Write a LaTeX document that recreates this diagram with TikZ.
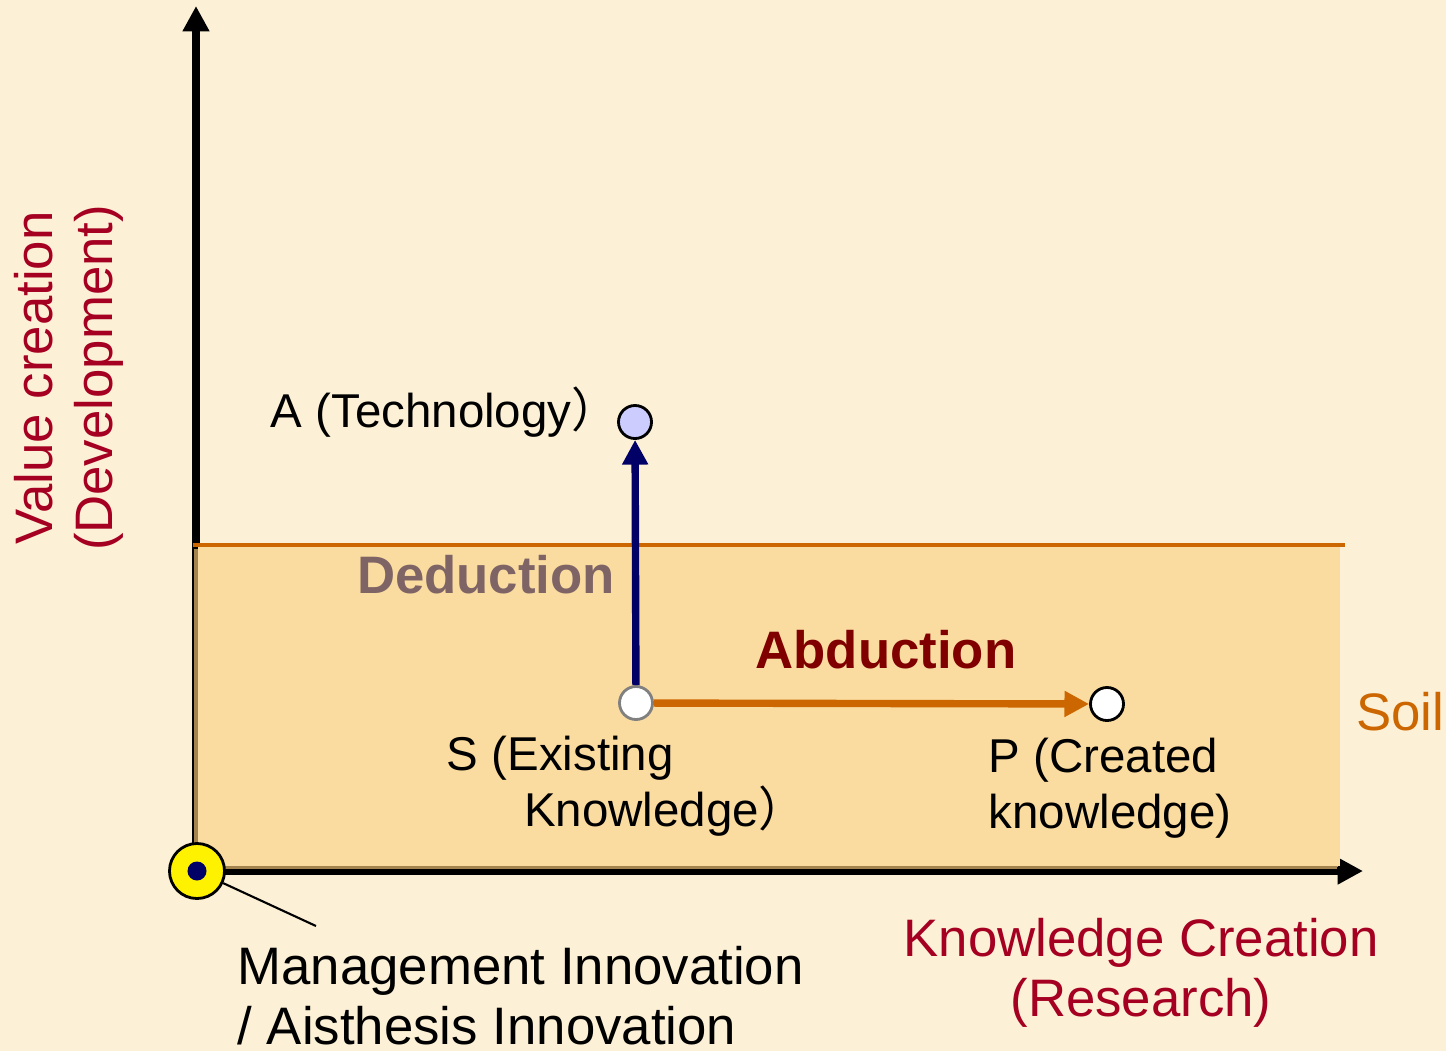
\documentclass[tikz,border=0pt]{standalone}
\usepackage{fontspec}
\setmainfont{Liberation Sans}
\newfontfamily\cjk{Noto Sans CJK JP}
\usetikzlibrary{arrows.meta}
\definecolor{parchment}{HTML}{FCF1D6}
\definecolor{soil}{HTML}{FBDCA0}
\definecolor{soilshadow}{HTML}{A3844F}
\definecolor{soilorange}{HTML}{CC6600}
\definecolor{axisred}{HTML}{A50021}
\definecolor{navy}{HTML}{000066}
\definecolor{deductgray}{HTML}{7F6466}
\definecolor{abductred}{HTML}{800000}
\definecolor{lilac}{HTML}{CCCCFF}

\tikzset{
  point/.style={circle,draw=black,line width=0.8pt,minimum size=0.33cm,inner sep=0pt},
  lbl/.style={inner sep=0pt,font=\fontsize{13.5}{16}\selectfont,align=left},
  big/.style={inner sep=0pt,font=\fontsize{15}{17}\selectfont},
  bold/.style={inner sep=0pt,font=\fontsize{15}{17}\selectfont\bfseries},
  axis/.style={line width=2.1pt,-{Triangle[length=7.2pt,width=7.2pt]}},
  move/.style={line width=2.1pt,-{Triangle[length=7pt,width=7pt]}},
}

\begin{document}
\begin{tikzpicture}[x=0.01cm,y=-0.01cm]
	\useasboundingbox (0,0) rectangle (1446,1051);
	\fill[parchment] (0,0) rectangle (1446,1051);
	% the two axes
	\coordinate (ybase) at (196,874);
	\coordinate (ytop) at (196,6);
	\coordinate (xbase) at (193,871);
	\coordinate (xend) at (1363,871);
	\draw[axis] (ybase) -- (ytop);
	\draw[axis] (xbase) -- (xend);
	% soil layer
	\fill[soilshadow] (194,549) rectangle (1337,869);
	\fill[soil] (198,545) rectangle (1340,866);
	\draw[soilorange,line width=0.9pt] (193,545) -- (1345,545);
	% origin marker
	\node[point,fill=yellow,minimum size=0.55cm] (O) at (197,871) {};
	\node[circle,fill=navy,minimum size=0.19cm,inner sep=0pt] (Odot) at (O) {};
	\coordinate (lead) at (316,926);
	\draw[line width=0.6pt] (O) -- (lead);
	% knowledge points
	\node[point,fill=lilac] (A) at (635,422) {};
	\node[point,fill=white,draw=gray] (S) at (636,703) {};
	\node[point,fill=white] (P) at (1107,704) {};
	\draw[move,navy] (S) -- (A);
	\draw[move,soilorange] (S) -- (P);
	% labels
	\node[lbl,anchor=base west] (atext) at (270,427) {A (Technology{\cjk ）}};
	\node[lbl,anchor=north west] (stext) at (446,735) {S (Existing\\\hspace*{22pt}Knowledge{\cjk ）}};
	\node[lbl,anchor=north west] (ptext) at (988,737) {P (Created\\knowledge)};
	\node[bold,text=deductgray] (ded) at (486,575) {Deduction};
	\node[bold,text=abductred] (abd) at (886,650) {Abduction};
	\node[big,text=soilorange] (soiltext) at (1400,712) {Soil};
	\node[big,text=axisred,align=center,rotate=90,anchor=north] (yname) at (14,378) {Value creation\\(Development)};
	\node[big,text=axisred,align=center,anchor=north] (xname) at (1141,918) {Knowledge Creation\\(Research)};
	\node[big,align=left,anchor=north west] (mgmt) at (237,946) {Management Innovation\\/ Aisthesis Innovation};
\end{tikzpicture}
\end{document}
